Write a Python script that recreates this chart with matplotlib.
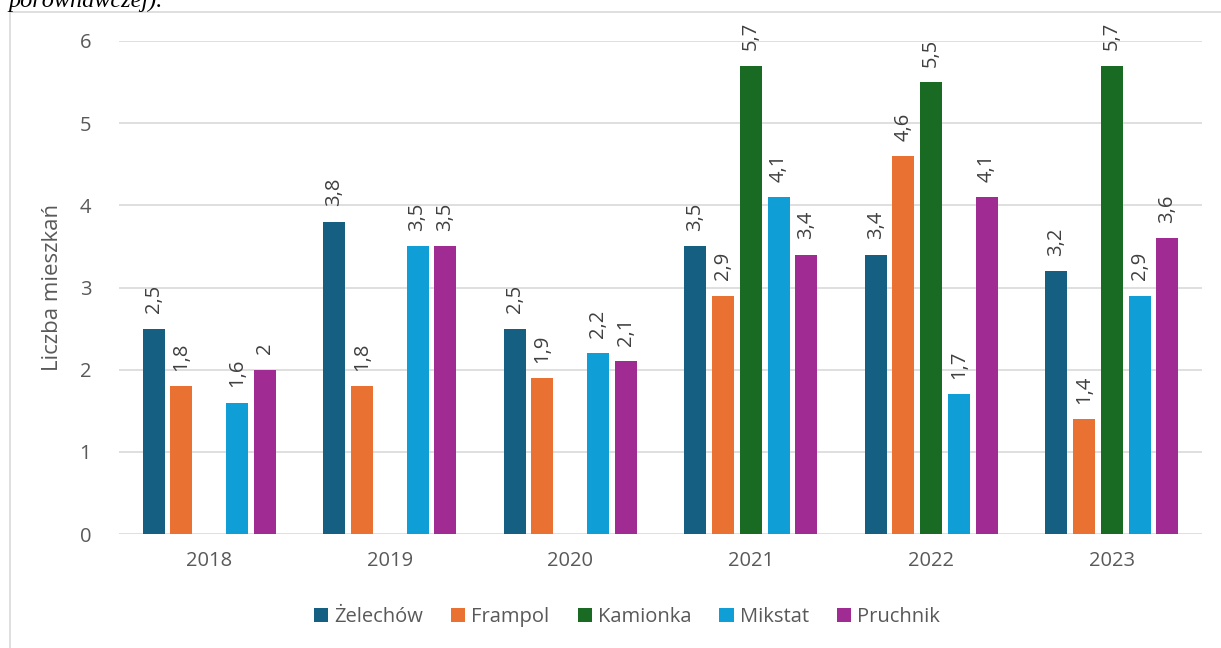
import numpy as np
import matplotlib.pyplot as plt
from matplotlib.lines import Line2D

years = ['2018', '2019', '2020', '2021', '2022', '2023']
series = ['Żelechów', 'Frampol', 'Kamionka', 'Mikstat', 'Pruchnik']
zelechow = [2.5, 3.8, 2.5, 3.5, 3.4, 3.2]
frampol = [1.8, 1.8, 1.9, 2.9, 4.6, 1.4]
kamionka = [np.nan, np.nan, np.nan, 5.7, 5.5, 5.7]
mikstat = [1.6, 3.5, 2.2, 4.1, 1.7, 2.9]
pruchnik = [2.0, 3.5, 2.1, 3.4, 4.1, 3.6]
colors = ['#156082', '#E97132', '#196B24', '#0F9ED5', '#A02B93']

plt.rcParams['font.family'] = ['Open Sans', 'DejaVu Sans']

fig = plt.figure(figsize=(12.21, 6.48), dpi=100)
ax = fig.add_axes([119/1221, 1 - 534/648, 1083/1221, 493/648])

# chart frame (cut by the page edge)
fig.add_artist(Line2D([10/1221, 10/1221], [0, 1 - 12/648], color='#d9d9d9', lw=1.2))
fig.add_artist(Line2D([10/1221, 1], [1 - 12/648, 1 - 12/648], color='#d9d9d9', lw=1.2))
fig.text(8/1221, 1 - 7/648, 'porównawczej).', fontsize=17.5, style='italic',
         family='Liberation Serif', va='baseline', ha='left')

x = np.arange(len(years))
step = 0.154
width = 0.122
data = [zelechow, frampol, kamionka, mikstat, pruchnik]
for i, (name, vals) in enumerate(zip(series, data)):
    pos = x + (i - 2) * step
    ax.bar(pos, vals, width, color=colors[i], label=name, zorder=3)
    for p, v in zip(pos, vals):
        if np.isnan(v):
            continue
        lab = ('%g' % v).replace('.', ',')
        ax.annotate(lab, (p, v), xytext=(0, 11), textcoords='offset points',
                    rotation=90, ha='center', va='bottom', fontsize=14.5, color='#404040')

ax.set_ylim(0, 6)
ax.set_xlim(-0.5, len(years) - 0.5)
ax.set_yticks(range(7))
ax.set_xticks(x)
ax.set_xticklabels(years)
ax.grid(axis='y', color='#d9d9d9', lw=1.2, zorder=0)
for s in ax.spines.values():
    s.set_visible(False)
ax.tick_params(length=0, labelsize=14.5, colors='#595959', pad=12)
ax.tick_params(axis='y', pad=20)
ax.set_ylabel('Liczba mieszkań', fontsize=16, color='#595959', labelpad=12)

ax.legend(loc='center', bbox_to_anchor=(0.469, -0.168), ncol=5, frameon=False,
          fontsize=14.5, labelcolor='#595959', handlelength=0.7, handleheight=0.7,
          handletextpad=0.3, columnspacing=1.4)

fig.savefig('out.png', dpi=100)
